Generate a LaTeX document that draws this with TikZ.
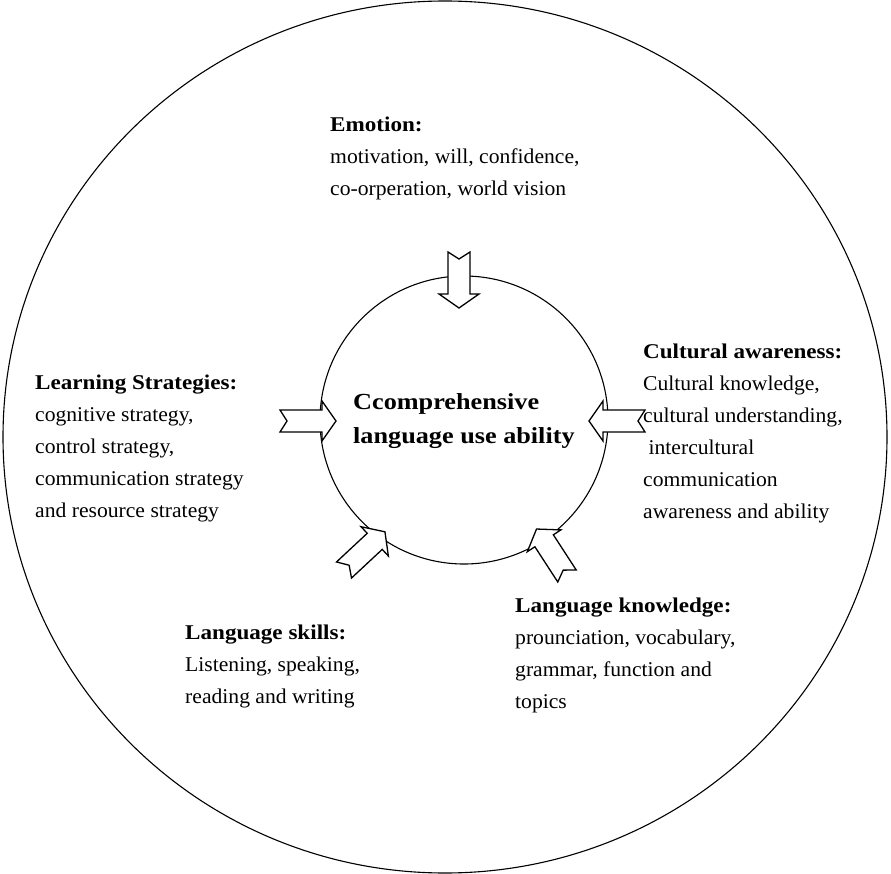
\documentclass[tikz,border=0pt]{standalone}
\usepackage{fontspec}
\setmainfont{Liberation Serif}[FakeStretch=1.03]
\newfontfamily\headfont[FakeStretch=1.1]{Liberation Serif}
\newfontfamily\corefont[FakeStretch=1.14]{Liberation Serif}
\usepackage{tikz}

% hollow block arrow with a notched tail: #1 = tail point, #2 = direction
\newcommand{\blockarrow}[2]{%
  \draw[line width=1.3pt, fill=white, line join=miter, shift={#1}, rotate=#2]
    (0,-11) -- (42,-11) -- (42,-20) -- (56,0) -- (42,20) -- (42,11)
    -- (0,11) -- (7,0) -- cycle;
}
\newcommand{\head}[1]{{\headfont\bfseries #1}}

\begin{document}
\begin{tikzpicture}[x=1pt, y=-1pt,
    % text blocks are placed by the baseline of their last line
    txt/.style={anchor=base west, align=left, inner sep=0pt,
      font=\fontsize{21}{32}\selectfont},
    core/.style={anchor=base west, align=left, inner sep=0pt,
      font=\fontsize{23}{34}\corefont\bfseries}]
  \useasboundingbox (0,0) rectangle (891,874);
  \draw[line width=1.1pt] (445,437) ellipse [x radius=442, y radius=436];
  \draw[line width=1.1pt] (464,420) circle (144);

  \node[core] (centre) at (353,443) {Ccomprehensive\\language use ability};

  \node[txt] (emotion) at (330,196) {\head{Emotion:}\\
    motivation, will, confidence,\\co-orperation, world vision};
  \node[txt] (strategy) at (35,517) {\head{Learning Strategies:}\\
    cognitive strategy,\\control strategy,\\communication strategy\\
    and resource strategy};
  \node[txt] (culture) at (643,518) {\head{Cultural awareness:}\\
    Cultural knowledge,\\cultural understanding,\\\ intercultural\\
    communication\\awareness and ability};
  \node[txt] (skills) at (185,703) {\head{Language skills:}\\
    Listening, speaking,\\reading and writing};
  \node[txt] (knowledge) at (515,708) {\head{Language knowledge:}\\
    prounciation, vocabulary,\\grammar, function and\\topics};

  % the five inputs pointing at the centre
  \blockarrow{(459,252)}{-90}
  \blockarrow{(280,421)}{0}
  \blockarrow{(645,421)}{180}
  \blockarrow{(344,570)}{43}
  \blockarrow{(567,576)}{123}
\end{tikzpicture}
\end{document}
